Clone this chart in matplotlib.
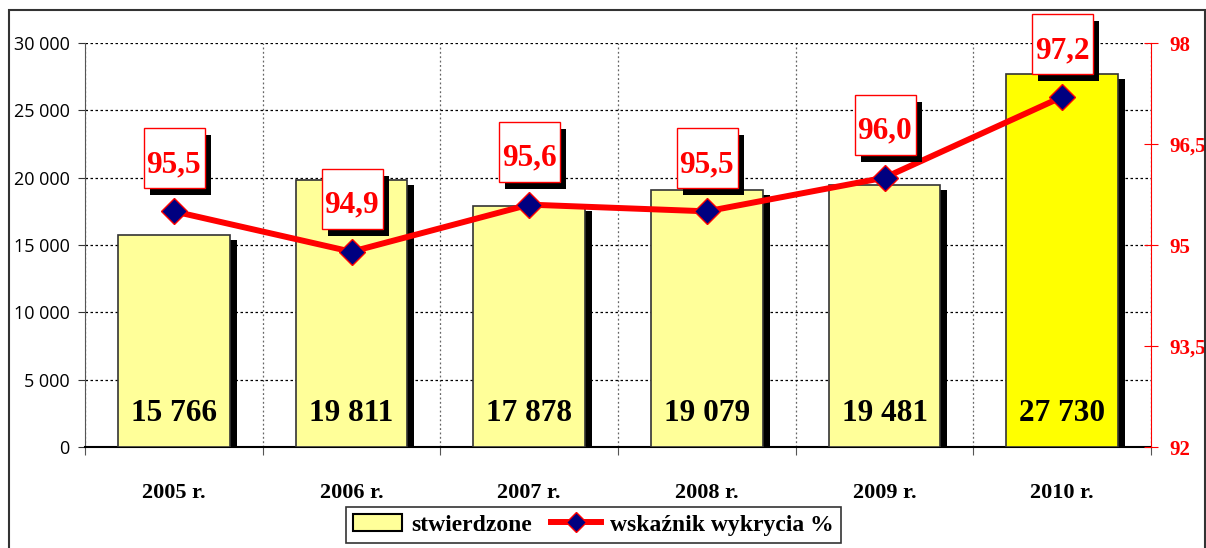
import matplotlib.pyplot as plt
import matplotlib.patheffects as pe
from matplotlib.patches import Rectangle
from matplotlib.lines import Line2D
from matplotlib.transforms import offset_copy, ScaledTranslation

# --- data ---
years = ["2005 r.", "2006 r.", "2007 r.", "2008 r.", "2009 r.", "2010 r."]
stwierdzone = [15766, 19811, 17878, 19079, 19481, 27730]
wskaznik = [95.5, 94.9, 95.6, 95.5, 96.0, 97.2]
left_ticks = [0, 5000, 10000, 15000, 20000, 25000, 30000]
right_ticks = [92, 93.5, 95, 96.5, 98]

bar_colors = ["#FFFF99"] * 5 + ["#FFFF00"]
RED = "#FF0000"
SERIF = "Liberation Serif"


def pl_num(v):
    # polish style: space as thousands separator, comma decimal
    return f"{v:,.0f}".replace(",", " ")


def pl_dec(v):
    return f"{v:g}".replace(".", ",")


fig = plt.figure(figsize=(12.06, 5.48), dpi=100)
ax = fig.add_axes([0.0705, 0.1843, 0.8839, 0.7372])
ax2 = ax.twinx()

# outer frame
fig.patches.append(Rectangle((9 / 1206, -0.05), 1196 / 1206, 1.05 - 10 / 548,
                             transform=fig.transFigure, fill=False,
                             edgecolor="#333333", linewidth=1.5))

x = list(range(len(years)))

# --- bars with shadow ---
shadow_tr = offset_copy(ax.transData, fig=fig, x=7, y=-5, units="dots")
ax.bar(x, stwierdzone, width=0.63, color="black", transform=shadow_tr, zorder=2)
ax.bar(x, stwierdzone, width=0.63, color=bar_colors,
       edgecolor="#333333", linewidth=1.2, zorder=3)

for xi, v in zip(x, stwierdzone):
    ax.text(xi, 2500, pl_num(v), ha="center", va="center", fontsize=22.5,
            fontweight="bold", family=SERIF, color="black", zorder=4)

ax.set_xlim(-0.5, len(years) - 0.5)
ax.set_ylim(0, 30000)
ax.set_yticks(left_ticks)
ax.set_yticklabels([pl_num(v) for v in left_ticks], fontsize=13, family="Open Sans")
ax.tick_params(axis="y", direction="out", length=5, color="#333333", pad=6)

# x: boundaries as major (grid + ticks), centers as minor (labels)
ax.set_xticks([i - 0.5 for i in range(len(years) + 1)])
ax.set_xticklabels([])
ax.set_xticks(x, minor=True)
ax.set_xticklabels(years, minor=True, fontsize=16, fontweight="bold", family=SERIF)
ax.tick_params(axis="x", which="major", direction="out", length=6, color="#555555")
ax.tick_params(axis="x", which="minor", length=0, pad=26)

ax.grid(axis="y", linestyle=(0, (2, 2)), color="black", linewidth=0.9)
ax.grid(axis="x", which="major", linestyle=(0, (1.5, 2)), color="#666666", linewidth=0.9)
ax.set_axisbelow(True)

ax.spines["top"].set_visible(False)
ax2.spines["top"].set_visible(False)
ax.spines["left"].set_color("#555555")
ax.spines["bottom"].set_color("black")
ax.spines["bottom"].set_linewidth(1.5)
ax.spines["right"].set_visible(False)
ax2.spines["left"].set_visible(False)
ax2.spines["bottom"].set_visible(False)
ax2.spines["right"].set_color(RED)

# --- line on the right axis ---
ax2.plot(x, wskaznik, color=RED, linewidth=4.3, marker="D", markersize=13,
         markerfacecolor="#000080", markeredgecolor=RED, markeredgewidth=1, zorder=5,
         clip_on=False)
ax2.set_ylim(92, 98)
ax2.set_yticks(right_ticks)
ax2.set_yticklabels([pl_dec(v) for v in right_ticks])
ax2.tick_params(axis="y", direction="inout", length=10, color=RED, pad=8,
                labelsize=15, labelcolor=RED, labelfontfamily=SERIF)
for t in ax2.get_yticklabels():
    t.set_fontweight("bold")
ax2.set_zorder(ax.get_zorder() + 1)
ax2.patch.set_visible(False)

# labels in square boxes with a black shadow
for xi, v in zip(x, wskaznik):
    box_tr = fig.dpi_scale_trans + ScaledTranslation(xi, v, ax2.transData)
    box = Rectangle((-0.30, 0.23), 0.61, 0.60, transform=box_tr, fc="white",
                    ec=RED, lw=1, clip_on=False, zorder=6)
    box.set_path_effects([pe.SimplePatchShadow(offset=(4.5, -5), shadow_rgbFace="black",
                                               alpha=1), pe.Normal()])
    ax2.add_patch(box)
    ax2.annotate(f"{v:.1f}".replace(".", ","), (xi, v), xytext=(0, 28),
                 textcoords="offset points", ha="center", va="baseline",
                 fontsize=22.5, fontweight="bold", family=SERIF, color=RED,
                 annotation_clip=False, zorder=7)

# --- legend ---
handles = [Rectangle((0, 0), 1, 1, fc="#FFFF99", ec="black", lw=1.5),
           Line2D([0], [0], color=RED, lw=4.3, marker="D", markersize=10,
                  markerfacecolor="#000080", markeredgecolor=RED)]
leg = fig.legend(handles, ["stwierdzone", "wskaźnik wykrycia %"], loc="upper center",
                 bbox_to_anchor=(0.492, 0.075), ncol=2, frameon=True, fancybox=False,
                 edgecolor="black", prop={"family": SERIF, "weight": "bold", "size": 17},
                 handlelength=2.1, columnspacing=0.8, handletextpad=0.4,
                 borderaxespad=0, borderpad=0.3)
leg.get_frame().set_linewidth(1.2)

fig.savefig("out.png", dpi=100)
